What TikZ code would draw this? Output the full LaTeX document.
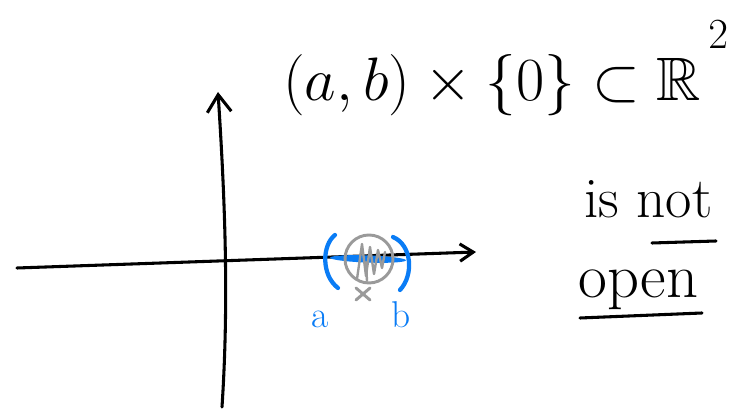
\RequirePackage{fix-cm}
\documentclass[tikz,border=0pt]{standalone}
\usepackage{amssymb}
\usetikzlibrary{arrows.meta,calc}
\definecolor{penblue}{HTML}{0A7CF5}
\definecolor{pengrey}{HTML}{9A9A9A}
\begin{document}
\begin{tikzpicture}[x=0.75pt,y=-0.75pt,
  ink/.style={line width=2.3pt,line cap=round,line join=round,black},
  blueink/.style={line width=3.2pt,line cap=round,line join=round,penblue},
  greyink/.style={line width=2.2pt,line cap=round,line join=round,pengrey},
  txt/.style={inner sep=0pt,anchor=base west}]
\useasboundingbox (0,0) rectangle (740,409);
% axes
\coordinate (xs) at (17,268);
\coordinate (xe) at (476,252);
\coordinate (ys) at (222,407);
\coordinate (ye) at (218,92);
\draw[ink,-{Straight Barb[length=10pt,width=13pt,line width=2.3pt]}] (xs) -- (xe);
\draw[ink,-{Straight Barb[length=13pt,width=18pt,line width=2.3pt]}] (ys) .. controls (229,300) and (225,200) .. (ye);
% blue interval on the axis
\fill[penblue,rotate around={-2:(368,259)}] (368,259) ellipse [x radius=38, y radius=3.6];
\coordinate (lp1) at (335,235);
\coordinate (lp2) at (338,288);
\coordinate (rp1) at (393,237);
\coordinate (rp2) at (400,290);
\draw[blueink] (lp1) .. controls (322,245) and (321,275) .. (lp2);
\draw[blueink] (rp1) .. controls (412,245) and (414,275) .. (rp2);
% grey ball with hatching
\coordinate (bc) at (369,259);
\draw[greyink] (bc) circle [radius=24];
\draw[greyink,line width=1.8pt] (357,279) -- (362,244) -- (366,276) -- (370,247) -- (374,274) -- (378,250) -- (382,268) -- (385,252);
\draw[greyink,line width=1.8pt] (366,262) -- (367,281);
% grey cross
\coordinate (xc) at (363,294);
\draw[greyink] ($(xc)+(-7,-6)$) -- ($(xc)+(7,6)$);
\draw[greyink] ($(xc)+(-7,6)$) -- ($(xc)+(7,-6)$);
% labels a, b
\node[txt,text=penblue,font=\fontsize{28}{30}\selectfont] (la) at (311,328) {a};
\node[txt,text=penblue,font=\fontsize{28}{30}\selectfont] (lb) at (391,328) {b};
% title
\node[txt,font=\fontsize{46}{50}\selectfont] (title) at (283,101) {$(a,b)\times\{0\}\subset\mathbb{R}^{\,\raisebox{0.5em}{$\scriptstyle 2$}}$};
% is not open
\node[txt,font=\fontsize{43}{46}\selectfont] (isnot) at (584,218) {is not};
\coordinate (u1a) at (652,243);
\coordinate (u1b) at (716,241);
\draw[ink] (u1a) -- (u1b);
\node[txt,font=\fontsize{47}{50}\selectfont] (open) at (578,298) {open};
\coordinate (u2a) at (580,318);
\coordinate (u2b) at (702,313);
\draw[ink] (u2a) -- (u2b);
\end{tikzpicture}
\end{document}
